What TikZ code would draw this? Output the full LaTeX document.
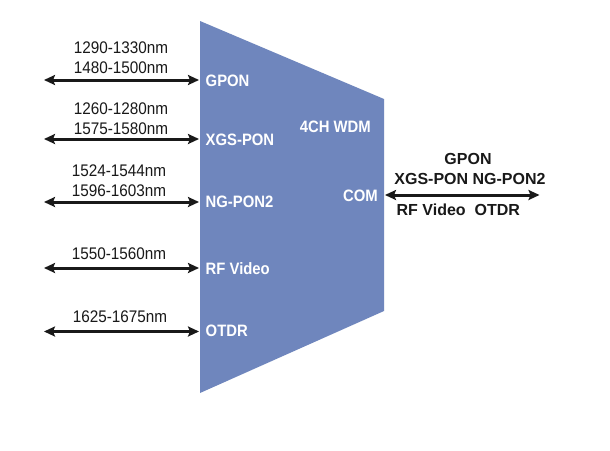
\documentclass[tikz,border=0pt]{standalone}
\usepackage{fontspec}
\setmainfont{Liberation Sans}
\usepackage{graphicx}
\usetikzlibrary{arrows.meta}
\definecolor{wdmblue}{RGB}{111,134,189}
\definecolor{txtdark}{RGB}{25,25,25}
\newcommand{\sqz}[2]{\scalebox{#1}[1]{#2}}
\begin{document}
\begin{tikzpicture}[x=1pt,y=-1pt,
  nmlabel/.style={inner sep=0pt,anchor=base,text=txtdark,font=\fontsize{16.8}{18}\selectfont},
  portlabel/.style={inner sep=0pt,anchor=base west,text=white,font=\fontsize{16.5}{18}\selectfont\bfseries},
  comlabel/.style={inner sep=0pt,anchor=base,text=txtdark,font=\fontsize{16}{18}\selectfont\bfseries},
  biarrow/.style={line width=3pt,draw=txtdark,{Stealth[length=11pt,width=10pt,inset=2pt]}-{Stealth[length=11pt,width=10pt,inset=2pt]}}]
\useasboundingbox (0,0) rectangle (610,450);
\fill[white] (0,0) rectangle (610,450);
% WDM body
\coordinate (tl) at (200,21);
\coordinate (tr) at (384,99);
\coordinate (br) at (384,311);
\coordinate (bl) at (200,393);
\fill[wdmblue] (tl) -- (tr) -- (br) -- (bl) -- cycle;
% port labels
\node[portlabel] (gpon) at (205.5,86) {\sqz{0.9}{GPON}};
\node[portlabel] (xgs) at (205.5,145) {\sqz{0.9}{XGS-PON}};
\node[portlabel] (ng) at (205.5,207) {\sqz{0.9}{NG-PON2}};
\node[portlabel] (rf) at (205.5,274) {\sqz{0.9}{RF Video}};
\node[portlabel] (otdr) at (205.5,336.5) {\sqz{0.9}{OTDR}};
\node[portlabel,anchor=base east] (wdm) at (371,132) {\sqz{0.9}{4CH WDM}};
\node[portlabel,anchor=base east] (com) at (378,201) {\sqz{0.9}{COM}};
% wavelength labels
\node[nmlabel] (w1a) at (121,53.5) {\sqz{0.91}{1290-1330nm}};
\node[nmlabel] (w1b) at (121,73.5) {\sqz{0.91}{1480-1500nm}};
\node[nmlabel] (w2a) at (121,114) {\sqz{0.91}{1260-1280nm}};
\node[nmlabel] (w2b) at (121,134) {\sqz{0.91}{1575-1580nm}};
\node[nmlabel] (w3a) at (119,176) {\sqz{0.91}{1524-1544nm}};
\node[nmlabel] (w3b) at (119,196) {\sqz{0.91}{1596-1603nm}};
\node[nmlabel] (w4) at (119,259) {\sqz{0.91}{1550-1560nm}};
\node[nmlabel] (w5) at (120,322) {\sqz{0.91}{1625-1675nm}};
% arrow end points
\coordinate (a1l) at (44,80);   \coordinate (a1r) at (199,80);
\coordinate (a2l) at (44,139);  \coordinate (a2r) at (199,139);
\coordinate (a3l) at (44,202);  \coordinate (a3r) at (199,202);
\coordinate (a4l) at (44,268);  \coordinate (a4r) at (199,268);
\coordinate (a5l) at (44,331.5);\coordinate (a5r) at (199,331.5);
\coordinate (cl) at (385,195);  \coordinate (cr) at (539.5,195);
\draw[biarrow] (a1l) -- (a1r);
\draw[biarrow] (a2l) -- (a2r);
\draw[biarrow] (a3l) -- (a3r);
\draw[biarrow] (a4l) -- (a4r);
\draw[biarrow] (a5l) -- (a5r);
\draw[biarrow] (cl) -- (cr);
% common port labels
\node[comlabel] (c1) at (468,164) {GPON};
\node[comlabel] (c2) at (470,184.3) {XGS-PON NG-PON2};
\node[comlabel] (c3) at (458.3,215.7) {RF Video\ \ OTDR};
\end{tikzpicture}
\end{document}
